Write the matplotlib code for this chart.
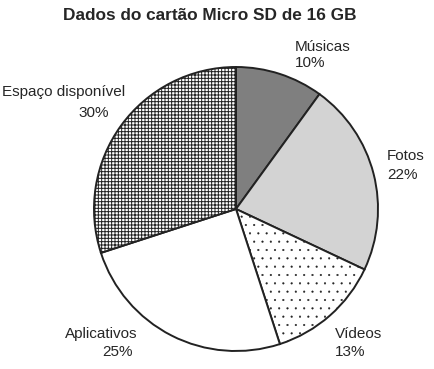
import numpy as np
import matplotlib.pyplot as plt

plt.rcParams['font.family'] = ['Liberation Sans', 'DejaVu Sans']
plt.rcParams['hatch.linewidth'] = 0.7
plt.rcParams['hatch.color'] = '#333333'

# data
labels = ['Músicas', 'Fotos', 'Vídeos', 'Aplicativos', 'Espaço disponível']
values = [10, 22, 13, 25, 30]
colors = ['#7f7f7f', '#d3d3d3', 'white', 'white', 'white']
hatches = [None, None, '..', None, '+++++']

fig = plt.figure(figsize=(4.34, 3.69), dpi=100)
ax = fig.add_axes([0, 0, 1, 1])

wedges, _ = ax.pie(values, colors=colors, startangle=90, counterclock=False,
                   center=(236, 160), radius=142, frame=True,
                   wedgeprops=dict(edgecolor='#222222', linewidth=1.4))
for w, h in zip(wedges, hatches):
    if h:
        w.set_hatch(h)
# smaller, lighter dots for the Vídeos slice
wedges[2].set_hatch_linewidth(0.3) if hasattr(wedges[2], 'set_hatch_linewidth') else None
ax.set_xlim(0, 434)
ax.set_ylim(0, 369)
ax.set_aspect('equal')
ax.axis('off')

# label lines: (x, y_name, y_pct, x_pct) in pixels from top-left
pos = [(295, 47, 63, 295), (387, 156, 175, 387), (335, 334, 352, 335),
       (65, 334, 352, 102), (2, 92, 113, 78)]
tc = '#262626'
for (x, yn, yp, xp), lab, v in zip(pos, labels, values):
    ax.text(x, 369 - yn, lab, ha='left', va='center', fontsize=11, color=tc)
    ax.text(xp, 369 - yp, '%d%%' % v, ha='left', va='center', fontsize=11,
            color=tc)

ax.text(210, 369 - 16, 'Dados do cartão Micro SD de 16 GB', ha='center',
        va='center', fontsize=12.4, fontweight='bold', color=tc)

fig.savefig('out.png', dpi=100)
